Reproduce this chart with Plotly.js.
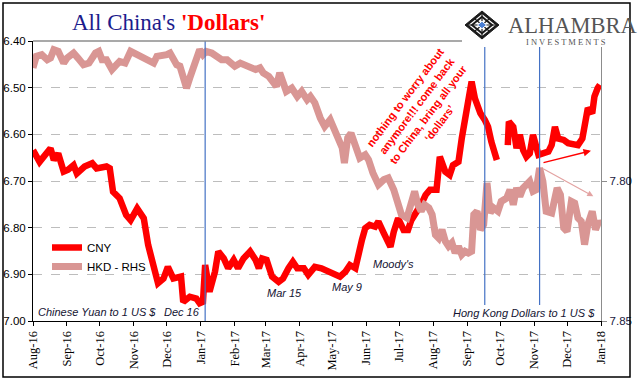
<!DOCTYPE html>
<html><head><meta charset="utf-8">
<script src="https://cdn.plot.ly/plotly-3.0.1.min.js"></script>
<style>html,body{margin:0;padding:0;background:#fff;}#chart{width:641px;height:381px;}</style>
</head><body><div id="chart"></div><script>
const cnyDates = ['2016-08-01','2016-08-07','2016-08-17','2016-08-20','2016-08-24','2016-08-29','2016-09-02','2016-09-07','2016-09-10','2016-09-17','2016-09-24','2016-09-28','2016-10-07','2016-10-10','2016-10-13','2016-10-19','2016-10-25','2016-10-29','2016-11-04','2016-11-10','2016-11-14','2016-11-19','2016-11-23','2016-11-28','2016-12-02','2016-12-07','2016-12-14','2016-12-16','2016-12-22','2016-12-28','2016-12-31','2017-01-03','2017-01-05','2017-01-09','2017-01-14','2017-01-17','2017-01-22','2017-01-26','2017-01-31','2017-02-04','2017-02-09','2017-02-15','2017-02-20','2017-02-23','2017-02-26','2017-03-02','2017-03-07','2017-03-13','2017-03-17','2017-03-22','2017-03-26','2017-03-30','2017-04-05','2017-04-09','2017-04-15','2017-04-21','2017-04-27','2017-05-03','2017-05-08','2017-05-13','2017-05-17','2017-05-22','2017-05-25','2017-05-28','2017-05-31','2017-06-04','2017-06-09','2017-06-12','2017-06-17','2017-06-23','2017-06-26','2017-06-30','2017-07-05','2017-07-09','2017-07-12','2017-07-17','2017-07-21','2017-07-25','2017-07-29','2017-08-04','2017-08-07','2017-08-12','2017-08-16','2017-08-19','2017-08-24','2017-08-27','2017-08-30','2017-09-02','2017-09-05','2017-09-08','2017-09-13','2017-09-17','2017-09-20','2017-09-23','2017-09-28','2017-10-03','2017-10-08','2017-10-09','2017-10-13','2017-10-16','2017-10-19','2017-10-22','2017-10-25','2017-10-28','2017-10-31','2017-11-05','2017-11-09','2017-11-14','2017-11-17','2017-11-20','2017-11-23','2017-11-28','2017-12-02','2017-12-07','2017-12-11','2017-12-15','2017-12-17','2017-12-20','2017-12-24','2017-12-26','2017-12-29','2017-12-31'];
const cnyValues = [6.634,6.659,6.630,6.655,6.641,6.680,6.676,6.666,6.684,6.669,6.662,6.673,6.669,6.673,6.723,6.737,6.773,6.784,6.759,6.780,6.837,6.887,6.919,6.909,6.884,6.909,6.905,6.959,6.948,6.952,6.962,6.959,6.880,6.937,6.894,6.851,6.866,6.887,6.869,6.887,6.866,6.851,6.869,6.887,6.866,6.869,6.905,6.916,6.909,6.887,6.873,6.887,6.887,6.901,6.884,6.887,6.894,6.901,6.905,6.894,6.880,6.887,6.851,6.826,6.801,6.794,6.798,6.787,6.812,6.841,6.809,6.780,6.805,6.805,6.784,6.766,6.750,6.730,6.719,6.719,6.648,6.680,6.687,6.666,6.659,6.609,6.573,6.534,6.487,6.523,6.555,6.569,6.584,6.616,6.655,null,6.623,6.573,6.584,6.630,6.601,6.634,6.648,6.641,6.601,6.644,6.641,6.637,6.623,6.584,6.609,6.612,6.619,6.623,6.623,6.609,6.573,6.544,6.555,6.519,6.501,6.494];

const hkdDates = ['2016-08-01','2016-08-04','2016-08-09','2016-08-14','2016-08-17','2016-08-20','2016-08-24','2016-08-29','2016-09-01','2016-09-07','2016-09-11','2016-09-16','2016-09-21','2016-09-27','2016-09-30','2016-10-03','2016-10-07','2016-10-12','2016-10-16','2016-10-19','2016-10-24','2016-10-29','2016-11-04','2016-11-10','2016-11-14','2016-11-19','2016-11-22','2016-11-26','2016-12-01','2016-12-04','2016-12-07','2016-12-10','2016-12-13','2016-12-16','2016-12-19','2016-12-22','2016-12-25','2016-12-28','2016-12-31','2017-01-03','2017-01-06','2017-01-11','2017-01-16','2017-01-20','2017-01-25','2017-01-28','2017-02-01','2017-02-06','2017-02-10','2017-02-15','2017-02-20','2017-02-24','2017-02-27','2017-03-04','2017-03-08','2017-03-11','2017-03-14','2017-03-17','2017-03-20','2017-03-25','2017-03-30','2017-04-03','2017-04-08','2017-04-11','2017-04-15','2017-04-20','2017-04-24','2017-04-29','2017-05-02','2017-05-07','2017-05-10','2017-05-12','2017-05-15','2017-05-18','2017-05-22','2017-05-26','2017-05-31','2017-06-03','2017-06-07','2017-06-12','2017-06-17','2017-06-21','2017-06-26','2017-06-30','2017-07-03','2017-07-08','2017-07-11','2017-07-15','2017-07-18','2017-07-21','2017-07-24','2017-07-28','2017-07-31','2017-08-03','2017-08-06','2017-08-09','2017-08-12','2017-08-15','2017-08-18','2017-08-21','2017-08-24','2017-08-27','2017-08-30','2017-09-02','2017-09-05','2017-09-07','2017-09-10','2017-09-13','2017-09-16','2017-09-19','2017-09-22','2017-09-25','2017-09-29','2017-10-02','2017-10-07','2017-10-10','2017-10-13','2017-10-16','2017-10-19','2017-10-22','2017-10-25','2017-10-28','2017-10-31','2017-11-03','2017-11-06','2017-11-09','2017-11-12','2017-11-17','2017-11-22','2017-11-25','2017-11-28','2017-12-01','2017-12-05','2017-12-08','2017-12-11','2017-12-14','2017-12-17','2017-12-20','2017-12-24','2017-12-27','2017-12-30','2017-12-31'];
const hkdValues = [7.7596,7.7555,7.7549,7.7567,7.7561,7.7531,7.7537,7.7579,7.7561,7.7543,7.7561,7.7585,7.7579,7.7543,7.7537,7.7567,7.7567,7.7602,7.7585,7.7573,7.7579,7.7537,7.7549,7.7561,7.7567,7.7579,7.7555,7.7555,7.7549,7.7543,7.7567,7.7585,7.7590,7.7626,7.7668,7.7632,7.7596,7.7561,7.7531,7.7549,7.7537,7.7543,7.7555,7.7567,7.7567,7.7579,7.7590,7.7579,7.7585,7.7596,7.7602,7.7596,7.7614,7.7626,7.7644,7.7662,7.7614,7.7644,7.7680,7.7668,7.7698,7.7680,7.7710,7.7698,7.7721,7.7775,7.7805,7.7781,7.7811,7.7846,7.7882,7.7936,7.7846,7.7829,7.7882,7.7918,7.7906,7.7924,7.7971,7.8013,7.7995,7.7989,7.8031,7.8090,7.8120,7.8132,7.8085,7.8037,7.8085,7.8108,7.8085,7.8096,7.8120,7.8192,7.8204,7.8174,7.8215,7.8233,7.8221,7.8257,7.8233,7.8263,7.8251,7.8257,7.8251,7.8120,7.8108,7.8174,7.8156,7.8007,7.8114,7.8096,7.8108,7.8073,7.8061,7.8031,7.8085,7.8025,7.8055,7.8025,7.8013,7.8001,7.8037,7.8031,7.7954,7.8001,7.8108,7.8114,7.8025,7.8049,7.8168,7.8180,7.8073,7.8079,7.8132,7.8144,7.8227,7.8156,7.8108,7.8174,7.8144,7.8150];

const monthTicks = ['2016-08-01','2016-09-01','2016-10-01','2016-11-01','2016-12-01','2017-01-01','2017-02-01','2017-03-01','2017-04-01','2017-05-01','2017-06-01','2017-07-01','2017-08-01','2017-09-01','2017-10-01','2017-11-01','2017-12-01','2018-01-01'];
const monthLabels = ['Aug-16','Sep-16','Oct-16','Nov-16','Dec-16','Jan-17','Feb-17','Mar-17','Apr-17','May-17','Jun-17','Jul-17','Aug-17','Sep-17','Oct-17','Nov-17','Dec-17','Jan-18'];
const leftTicks = [6.40,6.50,6.60,6.70,6.80,6.90,7.00];
const rightTicks = [7.80,7.85];
const eventDates = ['2017-01-05','2017-09-17','2017-11-06'];
const eventBottoms = [0,0.057,0.057];

const traces = [
  {x: hkdDates, y: hkdValues, name: 'HKD - RHS', type: 'scatter', mode: 'lines',
   line: {color: '#d99694', width: 7}, yaxis: 'y2'},
  {x: cnyDates, y: cnyValues, name: 'CNY', type: 'scatter', mode: 'lines',
   line: {color: '#ff0000', width: 6.5}, yaxis: 'y'}
];

const PX = x => (x - 33) / 568;
const PY = y => (321 - y) / 280;

const shapes = [];
eventDates.forEach((d, i) => {
  shapes.push({type: 'line', xref: 'x', yref: 'paper', x0: d, x1: d, y0: eventBottoms[i], y1: 1,
    line: {color: '#4472c4', width: 1.2}, layer: 'above'});
});
shapes.push({type: 'line', xref: 'paper', yref: 'paper', x0: 0, x1: 1, y0: 1, y1: 1,
  line: {color: '#8c8c8c', width: 1.3}, layer: 'above'});
shapes.push({type: 'rect', xref: 'paper', yref: 'paper', x0: PX(462), x1: PX(627), y0: PY(47), y1: PY(5),
  fillcolor: '#ffffff', line: {width: 0}, layer: 'above'});
const cx = 482, cy = 25;
function diamond(h, v) {
  return `M ${PX(cx - h)} ${PY(cy)} L ${PX(cx)} ${PY(cy - v)} L ${PX(cx + h)} ${PY(cy)} L ${PX(cx)} ${PY(cy + v)} Z`;
}
shapes.push({type: 'path', xref: 'paper', yref: 'paper', path: diamond(17, 14), fillcolor: '#1a1a1a', line: {color: '#1a1a1a', width: 1}, layer: 'above'});
shapes.push({type: 'path', xref: 'paper', yref: 'paper', path: diamond(13.5, 11), fillcolor: '#ffffff', line: {width: 0}, layer: 'above'});
shapes.push({type: 'path', xref: 'paper', yref: 'paper', path: diamond(10, 8.2), fillcolor: 'rgba(0,0,0,0)', line: {color: '#1a1a1a', width: 2}, layer: 'above'});
shapes.push({type: 'path', xref: 'paper', yref: 'paper',
  path: `M ${PX(cx - 7)} ${PY(cy - 6)} L ${PX(cx + 7)} ${PY(cy + 6)} M ${PX(cx - 7)} ${PY(cy + 6)} L ${PX(cx + 7)} ${PY(cy - 6)} M ${PX(cx)} ${PY(cy - 11)} L ${PX(cx)} ${PY(cy + 11)} M ${PX(cx - 13)} ${PY(cy)} L ${PX(cx + 13)} ${PY(cy)}`,
  line: {color: '#1a1a1a', width: 1.2}, layer: 'above'});
shapes.push({type: 'path', xref: 'paper', yref: 'paper', path: diamond(4.5, 3.8), fillcolor: '#4a7fd4', line: {color: '#ffffff', width: 1}, layer: 'above'});
shapes.push({type: 'rect', xref: 'paper', yref: 'paper', x0: PX(3), x1: PX(630), y0: PY(377), y1: PY(3),
  line: {color: '#000000', width: 1.5}, fillcolor: 'rgba(0,0,0,0)', layer: 'above'});

const labelFont = {family: 'Liberation Sans, Arial, sans-serif', size: 11, color: '#141432'};
const annotations = [
  {xref: 'paper', yref: 'paper', x: PX(168), y: PY(22), xanchor: 'center', yanchor: 'middle', showarrow: false,
   text: "All China's <span style=\"color:#ff0000\"><b>'Dollars'</b></span>",
   font: {family: 'Liberation Serif, Times New Roman, serif', size: 23, color: '#1c1c8c'}},
  {xref: 'paper', yref: 'paper', x: PX(506), y: PY(26), xanchor: 'left', yanchor: 'middle', showarrow: false,
   text: 'ALHAMBRA', font: {family: 'Liberation Serif, Times New Roman, serif', size: 22.5, color: '#555555'}},
  {xref: 'paper', yref: 'paper', x: PX(566), y: PY(42), xanchor: 'center', yanchor: 'middle', showarrow: false,
   text: 'I N V E S T M E N T S', font: {family: 'Liberation Serif, Times New Roman, serif', size: 8.5, color: '#555555'}},
  {xref: 'paper', yref: 'paper', x: PX(36), y: PY(312), xanchor: 'left', yanchor: 'middle', showarrow: false,
   text: '<i>Chinese Yuan to 1 US $</i>', font: labelFont},
  {xref: 'paper', yref: 'paper', x: PX(182), y: PY(312), xanchor: 'center', yanchor: 'middle', showarrow: false,
   text: '<i>Dec 16</i>', font: labelFont},
  {xref: 'paper', yref: 'paper', x: PX(284), y: PY(293), xanchor: 'center', yanchor: 'middle', showarrow: false,
   text: '<i>Mar 15</i>', font: labelFont},
  {xref: 'paper', yref: 'paper', x: PX(347), y: PY(287), xanchor: 'center', yanchor: 'middle', showarrow: false,
   text: '<i>May 9</i>', font: labelFont},
  {xref: 'paper', yref: 'paper', x: PX(393), y: PY(264), xanchor: 'center', yanchor: 'middle', showarrow: false,
   text: "<i>Moody's</i>", font: labelFont},
  {xref: 'paper', yref: 'paper', x: PX(597), y: PY(313), xanchor: 'right', yanchor: 'middle', showarrow: false,
   text: '<i>Hong Kong Dollars to 1 US $</i>', font: labelFont},
  {xref: 'paper', yref: 'paper', x: PX(422), y: PY(110), xanchor: 'center', yanchor: 'middle', showarrow: false,
   textangle: -53, align: 'center',
   text: "<b>nothing to worry about<br>anymore!!! come back<br>to China, bring all your<br>\u2018dollars\u2019</b>",
   font: {family: 'Liberation Sans, Arial, sans-serif', size: 11, color: '#ff0000'}},
  {xref: 'paper', yref: 'paper', x: PX(591), y: PY(150.7), ax: -49, ay: 12.3, showarrow: true, text: '',
   arrowhead: 2, arrowsize: 1, arrowwidth: 1.5, arrowcolor: '#ff0000'},
  {xref: 'paper', yref: 'paper', x: PX(593.3), y: PY(196.3), ax: -51.6, ay: -28.3, showarrow: true, text: '',
   arrowhead: 2, arrowsize: 1, arrowwidth: 1.2, arrowcolor: '#e3a3a2'}
];

const layout = {
  width: 641, height: 381,
  margin: {l: 33, r: 40, t: 41, b: 60, pad: 0},
  paper_bgcolor: '#ffffff', plot_bgcolor: '#ffffff',
  showlegend: true,
  legend: {x: PX(47), y: PY(233), xanchor: 'left', yanchor: 'top', bgcolor: 'rgba(0,0,0,0)',
    font: {family: 'Liberation Sans, Arial, sans-serif', size: 11.5, color: '#000000'}, traceorder: 'reversed',
    tracegroupgap: 0, itemwidth: 30},
  xaxis: {type: 'date', range: ['2016-08-01', '2018-01-01'], tickvals: monthTicks, ticktext: monthLabels,
    tickangle: -90, showgrid: false, zeroline: false, showline: true, linecolor: '#000000', linewidth: 1,
    ticks: 'outside', ticklen: 4, tickcolor: '#000000',
    tickfont: {family: 'Liberation Serif, Times New Roman, serif', size: 12.5, color: '#000000'}},
  yaxis: {range: [7.00, 6.40], tickvals: leftTicks, tickformat: '.2f', showgrid: true, gridcolor: '#bdbdbd',
    griddash: 'dash', gridwidth: 1, zeroline: false, showline: true, linecolor: '#000000', linewidth: 1,
    ticks: 'outside', ticklen: 4, tickcolor: '#000000',
    tickfont: {family: 'Liberation Sans, Arial, sans-serif', size: 11.5, color: '#000000'}},
  yaxis2: {range: [7.85, 7.75], overlaying: 'y', side: 'right', tickvals: rightTicks, tickformat: '.2f',
    showgrid: false, zeroline: false, showline: true, linecolor: '#8c8c8c', linewidth: 1.3,
    ticks: 'outside', ticklen: 5, tickcolor: '#8c8c8c',
    tickfont: {family: 'Liberation Sans, Arial, sans-serif', size: 11.5, color: '#1a2040'}},
  shapes: shapes,
  annotations: annotations
};

Plotly.newPlot('chart', traces, layout, {staticPlot: true, displayModeBar: false});
</script></body></html>
